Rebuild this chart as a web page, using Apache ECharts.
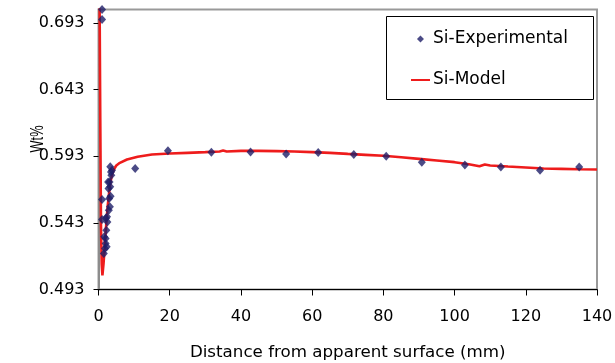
<!DOCTYPE html>
<html>
<head>
<meta charset="utf-8">
<script src="https://cdn.jsdelivr.net/npm/echarts@6/dist/echarts.min.js"></script>
<style>
html,body{margin:0;padding:0;background:#fff;}
#c{width:615px;height:363px;}
</style>
</head>
<body>
<div id="c"></div>
<script>
// Experimental points
const expX = [1.0, 1.0, 1.0, 1.0, 1.5, 1.8, 2.0, 2.3, 2.0, 1.6, 2.2, 2.5, 2.1, 2.4, 2.9, 3.2, 3.0, 3.4, 2.8, 3.3, 2.7, 3.1, 3.6, 3.5, 3.8, 3.3,
  10.3, 19.5, 31.7, 42.7, 52.7, 61.7, 71.7, 80.8, 90.8, 102.9, 113, 124, 135];
const expY = [0.703, 0.6955, 0.5605, 0.5455, 0.520, 0.5238, 0.5275, 0.5250, 0.5313, 0.5325, 0.5375, 0.5437, 0.5465, 0.5475, 0.5525, 0.555, 0.5613, 0.563, 0.5688, 0.570, 0.5737, 0.5737, 0.5787, 0.5812, 0.5825, 0.585,
  0.5838, 0.597, 0.596, 0.5962, 0.5947, 0.5958, 0.5943, 0.593, 0.5885, 0.5863, 0.5848, 0.5825, 0.5848];

// Model curve
const modelX = [0.3, 0.5, 0.7, 0.9, 1.1, 1.4, 1.8, 2.2, 2.6, 3.0, 3.4, 3.8, 4.3, 5.0, 6.0, 8.0, 11, 15, 20, 25, 30, 34, 35, 36, 40, 45, 50, 55, 60, 65, 70, 75, 80, 85, 90, 95, 100, 104, 107, 108.5, 110, 115, 120, 125, 130, 135, 140];
const modelY = [0.712, 0.62, 0.54, 0.512, 0.5035, 0.512, 0.527, 0.543, 0.556, 0.566, 0.574, 0.579, 0.583, 0.586, 0.588, 0.5905, 0.5925, 0.5943, 0.595, 0.5955, 0.596, 0.5965, 0.5972, 0.5965, 0.597, 0.597, 0.5968, 0.5965, 0.596, 0.5955, 0.5947, 0.594, 0.5933, 0.5922, 0.591, 0.5898, 0.5885, 0.587, 0.5855, 0.5868, 0.586, 0.5852, 0.5845, 0.5838, 0.5835, 0.5832, 0.583];

const yTicks = [0.493, 0.543, 0.593, 0.643, 0.693];
const xTicks = [0, 20, 40, 60, 80, 100, 120, 140];
const yTitle = 'Wt%';

const FONT = 'DejaVu Sans';
const chart = echarts.init(document.getElementById('c'), null, {renderer: 'canvas'});
chart.setOption({
  animation: false,
  backgroundColor: '#fff',
  textStyle: {fontFamily: FONT, color: '#000'},
  grid: {left: 98.5, right: 18, top: 9.5, bottom: 73.5, show: true, borderColor: '#999', borderWidth: 2, backgroundColor: 'transparent',
    containLabel: false, outerBoundsMode: 'none'},
  graphic: [{
    type: 'rect', z: 100,
    shape: {x: 386.5, y: 16.5, width: 207, height: 83},
    style: {fill: '#fff', stroke: '#000', lineWidth: 1}
  }, {
    type: 'text', z: 100,
    x: 38, y: 139, rotation: Math.PI / 2, scaleX: 0.8, scaleY: 1.2,
    style: {text: yTitle, font: '16px "Liberation Sans"', fill: '#000', align: 'center', verticalAlign: 'middle'}
  }],
  legend: {
    z: 200,
    orient: 'vertical',
    left: 411, top: 29,
    padding: 0,
    itemWidth: 19, itemHeight: 8,
    itemGap: 21,
    symbolKeepAspect: true,
    textStyle: {fontFamily: FONT, fontSize: 17, color: '#000', lineHeight: 20, padding: [0,0,0,-2]},
    data: [
      {name: 'Si-Experimental', icon: 'path://M0,0L0.01,0M19,8L19.01,8M9.5,0.5L13,4L9.5,7.5L6,4Z', itemStyle: {color: '#1e1e68'}},
      {name: 'Si-Model', icon: 'path://M0,0L0.01,0M19,8L19.01,8M0,3L19,3L19,5L0,5Z', itemStyle: {color: '#ee1c1c'}}
    ]
  },
  xAxis: {
    type: 'value', min: 0, max: 140, interval: 20,
    name: 'Distance from apparent surface (mm)',
    nameLocation: 'middle', nameGap: 55,
    nameTextStyle: {fontFamily: FONT, fontSize: 16.7, color: '#000'},
    axisLine: {show: true, onZero: false, lineStyle: {color: '#000', width: 1}},
    axisTick: {show: true, length: 6, lineStyle: {color: '#000'}},
    axisLabel: {fontFamily: FONT, fontSize: 16, color: '#000', margin: 19},
    splitLine: {show: false}
  },
  yAxis: {
    type: 'value', min: 0.493, max: 0.703,
    axisLine: {show: true, onZero: false, lineStyle: {color: '#8c8c8c', width: 2}},
    axisTick: {show: true, length: 5, customValues: yTicks, lineStyle: {color: '#000'}},
    axisLabel: {fontFamily: FONT, fontSize: 16, color: '#000', margin: 14, customValues: yTicks,
      formatter: v => v.toFixed(3)},
    splitLine: {show: false}
  },
  series: [
    {
      name: 'Si-Model', type: 'line', z: 2,
      data: modelX.map((x, i) => [x, modelY[i]]),
      showSymbol: false, symbol: 'none',
      lineStyle: {color: '#ee1c1c', width: 2.6},
      itemStyle: {color: '#ee1c1c'},
      clip: true
    },
    {
      name: 'Si-Experimental', type: 'scatter', z: 3,
      data: expX.map((x, i) => [x, expY[i]]),
      symbol: 'diamond', symbolSize: [8, 9],
      itemStyle: {color: '#1e1e68'},
      clip: false
    }
  ]
});
</script>
</body>
</html>
